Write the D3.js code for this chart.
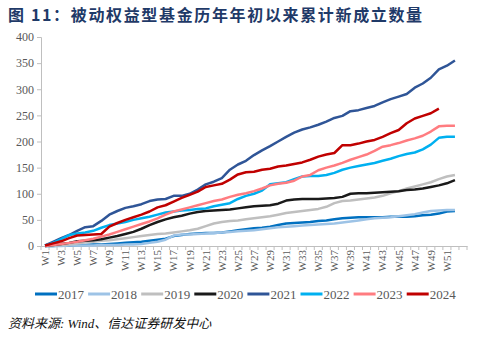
<!DOCTYPE html>
<html>
<head>
<meta charset="utf-8">
<script src="https://cdn.jsdelivr.net/npm/d3@7"></script>
<style>
  body { margin: 0; background: #fff; }
  svg { display: block; }
</style>
</head>
<body>
<div id="chart"></div>
<script>
(function(d3) {
  'use strict';

  // week categories (53 slots, the last one is empty)
  var weeks = d3.range(1, 54).map(function(i) { return 'W' + i; });
  var weekTicks = weeks.filter(function(d, i) { return i % 2 === 0 && i < 52; });
  var yTicks = [0, 50, 100, 150, 200, 250, 300, 350, 400];

  var years = ['2017', '2018', '2019', '2020', '2021', '2022', '2023', '2024'];
  var colors = ['#0070C0', '#9DC3E6', '#BFBFBF', '#1A1A1A', '#2F5597', '#00B0F0', '#FF7C80', '#C00000'];

  var v2017 = [0, 0, 1, 1, 2, 2, 3, 3, 4, 5, 6, 7, 8, 10, 12, 14, 19, 21, 23, 24, 25, 25, 26, 28, 30, 32,
               34, 35, 37, 40, 43, 44, 45, 46, 48, 49, 51, 53, 54, 55, 55, 55, 55, 56, 56, 56, 57, 59, 60, 62, 66, 67];
  var v2018 = [0, 0, 0, 1, 1, 1, 1, 2, 2, 2, 3, 3, 4, 6, 8, 12, 20, 22, 22, 23, 24, 25, 26, 27, 28, 29,
               30, 32, 34, 36, 37, 38, 39, 40, 41, 42, 43, 45, 47, 49, 51, 53, 54, 55, 57, 59, 61, 64, 67, 68, 69, 69];
  var v2019 = [0, 1, 2, 3, 5, 7, 8, 10, 11, 13, 15, 17, 19, 21, 23, 24, 26, 28, 30, 33, 38, 43, 46, 48, 49, 51,
               53, 55, 57, 60, 63, 65, 67, 69, 71, 75, 82, 86, 87, 89, 91, 93, 96, 101, 105, 110, 114, 118, 122, 128, 133, 136];
  var v2020 = [0, 2, 4, 6, 9, 10, 11, 13, 16, 19, 23, 27, 33, 40, 46, 51, 55, 58, 62, 65, 67, 68, 69, 70, 72, 74,
               76, 77, 78, 81, 87, 89, 90, 90, 90, 91, 92, 94, 100, 101, 101, 102, 103, 104, 105, 107, 108, 110, 113, 116, 120, 126];
  var v2021 = [1, 8, 15, 21, 29, 36, 38, 48, 60, 67, 73, 76, 80, 86, 89, 90, 96, 96, 100, 108, 118, 123, 130, 146, 156, 163,
               174, 183, 191, 200, 209, 217, 223, 227, 232, 238, 245, 249, 258, 260, 264, 268, 275, 281, 286, 291, 303, 311, 322, 338, 345, 355];
  var v2022 = [1, 6, 13, 21, 24, 26, 29, 35, 40, 43, 46, 50, 53, 56, 60, 64, 66, 68, 69, 71, 72, 76, 79, 82, 90, 96,
               100, 106, 118, 120, 122, 128, 133, 134, 134, 136, 140, 146, 150, 153, 156, 159, 163, 167, 172, 176, 179, 185, 194, 207, 209, 209];
  var v2023 = [0, 2, 4, 6, 8, 11, 14, 18, 22, 27, 32, 37, 42, 47, 53, 60, 66, 70, 74, 78, 82, 86, 89, 94, 98, 101,
               105, 110, 116, 119, 121, 125, 133, 136, 145, 150, 154, 159, 165, 170, 175, 182, 190, 193, 197, 202, 206, 211, 219, 229, 230, 230];
  var v2024 = [1, 5, 9, 15, 20, 21, 22, 23, 37, 44, 50, 55, 60, 66, 74, 78, 85, 92, 98, 104, 113, 116, 119, 127, 137, 141,
               142, 146, 148, 152, 154, 157, 160, 165, 171, 175, 178, 193, 193, 196, 200, 203, 209, 216, 222, 235, 244, 249, 254, 263];

  var series = [v2017, v2018, v2019, v2020, v2021, v2022, v2023, v2024];

  var width = 485;
  var height = 346;
  var margin = { left: 41, right: 18, top: 37, bottom: 100 };

  var svg = d3.select('#chart')
    .append('svg')
    .attr('width', width)
    .attr('height', height);

  // title
  svg.append('text')
    .attr('x', 8)
    .attr('y', 21)
    .attr('fill', '#1F3A68')
    .style('font-family', '"Noto Sans CJK SC", sans-serif')
    .style('font-weight', 'bold')
    .style('font-size', '16px')
    .style('letter-spacing', '1.65px')
    .text('图 11：被动权益型基金历年年初以来累计新成立数量');

  var x = d3.scaleBand()
    .domain(weeks)
    .range([margin.left, width - margin.right]);

  var y = d3.scaleLinear()
    .domain([0, 400])
    .range([height - margin.bottom, margin.top]);

  var axisFont = '"Liberation Serif", "Times New Roman", serif';

  // y axis
  var yAxis = svg.append('g')
    .attr('transform', 'translate(' + margin.left + ',0)')
    .call(d3.axisLeft(y).tickValues(yTicks).tickSize(4).tickPadding(3));
  yAxis.select('.domain').attr('stroke', '#BFBFBF');
  yAxis.selectAll('.tick line').attr('stroke', '#BFBFBF');
  yAxis.selectAll('.tick text')
    .attr('fill', '#595959')
    .style('font-family', axisFont)
    .style('font-size', '12px');

  // x axis: labels every other week, rotated
  var x0 = height - margin.bottom;
  var xAxis = svg.append('g')
    .attr('transform', 'translate(0,' + x0 + ')')
    .call(d3.axisBottom(x).tickValues(weekTicks).tickSize(0).tickPadding(0));
  xAxis.select('.domain').attr('stroke', '#BFBFBF');
  xAxis.selectAll('.tick text')
    .attr('fill', '#595959')
    .attr('transform', 'rotate(-90)')
    .attr('text-anchor', 'end')
    .attr('x', -4)
    .attr('y', 0)
    .attr('dy', '0.35em')
    .style('font-family', axisFont)
    .style('font-size', '11px');

  // tick marks between categories
  svg.append('g')
    .selectAll('line')
    .data(d3.range(weeks.length + 1))
    .enter()
    .append('line')
    .attr('x1', function(i) { return margin.left + i * x.step(); })
    .attr('x2', function(i) { return margin.left + i * x.step(); })
    .attr('y1', x0)
    .attr('y2', x0 + 4)
    .attr('stroke', '#BFBFBF');

  var line = d3.line()
    .x(function(d, i) { return x(weeks[i]) + x.bandwidth() / 2; })
    .y(function(d) { return y(d); });

  svg.append('g')
    .selectAll('path')
    .data(series)
    .enter()
    .append('path')
    .attr('d', line)
    .attr('fill', 'none')
    .attr('stroke', function(d, i) { return colors[i]; })
    .attr('stroke-width', 2.5)
    .attr('stroke-linejoin', 'round');

  // legend
  var legend = svg.selectAll('.legend')
    .data(years)
    .enter()
    .append('g')
    .attr('class', 'legend')
    .attr('transform', function(d, i) {
      return 'translate(' + (35 + i * 53.1) + ',294)';
    });

  legend.append('line')
    .attr('x1', 0)
    .attr('x2', 22)
    .attr('stroke', function(d, i) { return colors[i]; })
    .attr('stroke-width', 3);

  legend.append('text')
    .attr('x', 23)
    .attr('dy', '0.35em')
    .attr('fill', '#595959')
    .style('font-family', axisFont)
    .style('font-size', '13px')
    .text(function(d) { return d; });

  // source note
  svg.append('text')
    .attr('x', 8)
    .attr('y', 328)
    .attr('fill', '#111')
    .style('font-family', '"Liberation Serif", "Noto Sans CJK SC", serif')
    .style('font-style', 'italic')
    .style('font-size', '13px')
    .text('资料来源: Wind、信达证券研发中心');

})(window.d3);
</script>
</body>
</html>
